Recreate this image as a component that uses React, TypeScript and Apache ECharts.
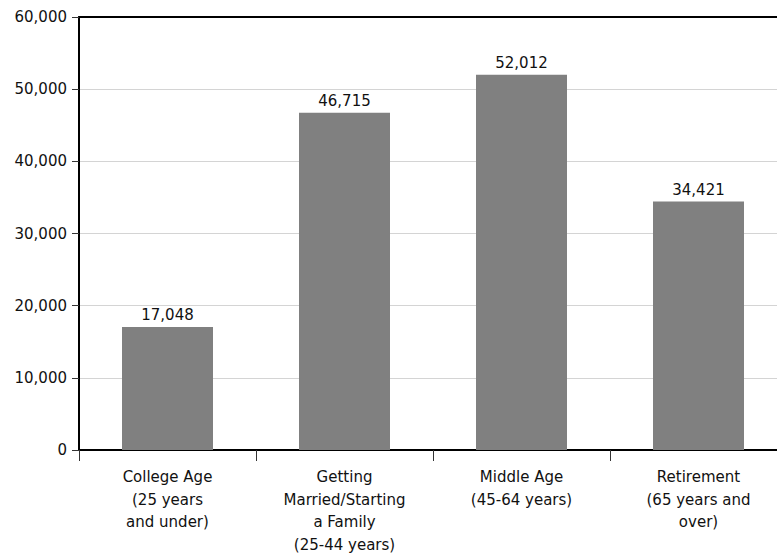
import React, { useEffect, useRef } from "react";
import * as echarts from "echarts";

const categories = [
  "College Age\n(25 years\nand under)",
  "Getting\nMarried/Starting\na Family\n(25-44 years)",
  "Middle Age\n(45-64 years)",
  "Retirement\n(65 years and\nover)",
];
const values = [17048, 46715, 52012, 34421];
const yTicks = { min: 0, max: 60000, interval: 10000 };

const FONT = "'DejaVu Sans', 'Open Sans', sans-serif";
const fmt = (v: number) => v.toLocaleString("en-US");

export default function App() {
  const ref = useRef<HTMLDivElement>(null);
  useEffect(() => {
    if (!ref.current) return;
    const chart = echarts.init(ref.current, null, { renderer: "svg" });
    chart.setOption({
      animation: false,
      backgroundColor: "#ffffff",
      textStyle: { fontFamily: FONT },
      grid: {
        left: 79,
        top: 17,
        right: -10,
        bottom: 105,
        containLabel: false,
        outerBoundsMode: "none",
      },
      xAxis: [
        {
          type: "category",
          data: categories,
          position: "bottom",
          boundaryGap: true,
          axisLine: { lineStyle: { color: "#000", width: 2 } },
          axisTick: { show: true, length: 11, alignWithLabel: false, lineStyle: { color: "#333", width: 1 } },
          axisLabel: {
            interval: 0,
            margin: 16,
            color: "#111",
            fontSize: 15,
            lineHeight: 22.5,
            fontFamily: FONT,
            align: "center",
          },
        },
        {
          type: "category",
          data: categories,
          position: "top",
          axisLine: { lineStyle: { color: "#000", width: 2 } },
          axisTick: { show: false },
          axisLabel: { show: false },
        },
      ],
      yAxis: {
        type: "value",
        min: yTicks.min,
        max: yTicks.max,
        interval: yTicks.interval,
        axisLine: { show: true, lineStyle: { color: "#000", width: 2 } },
        axisTick: { show: true, length: 7, lineStyle: { color: "#333", width: 1 } },
        axisLabel: {
          margin: 12,
          color: "#111",
          fontSize: 15,
          fontFamily: FONT,
          formatter: (v: number) => fmt(v),
        },
        splitLine: { show: true, lineStyle: { color: "#d4d4d4", width: 1 } },
      },
      series: [
        {
          type: "bar",
          data: values,
          barWidth: 91,
          itemStyle: { color: "#808080" },
          label: {
            show: true,
            position: "top",
            distance: 4,
            color: "#111",
            fontSize: 15,
            fontFamily: FONT,
            formatter: (p: any) => fmt(p.value),
          },
        },
      ],
    });
    return () => chart.dispose();
  }, []);
  return (
    <div
      ref={ref}
      style={{ position: "absolute", left: 0, top: 0, width: 777, height: 555, overflow: "hidden" }}
    />
  );
}
